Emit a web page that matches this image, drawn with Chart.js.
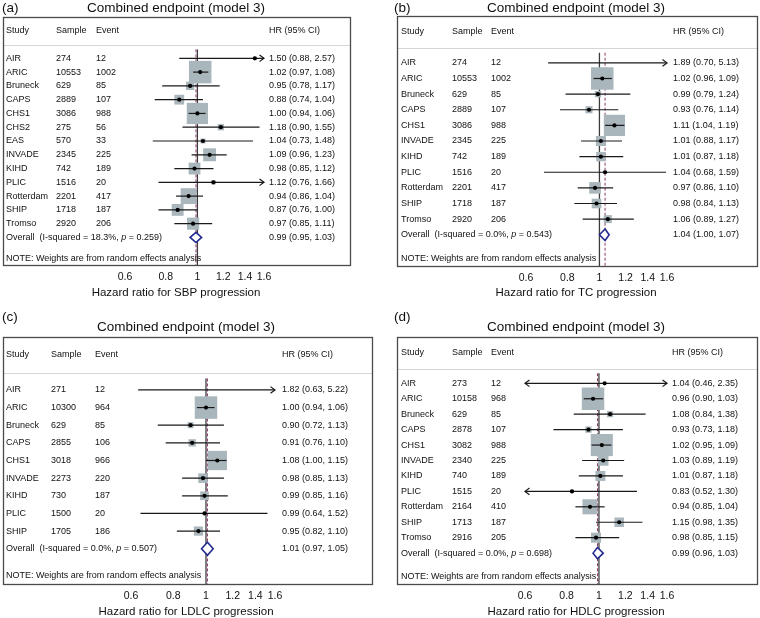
<!DOCTYPE html>
<html>
<head>
<meta charset="utf-8">
<script src="https://cdn.jsdelivr.net/npm/chart.js@4.4.1/dist/chart.umd.min.js"></script>
<style>
  html, body { margin: 0; padding: 0; background: #ffffff; }
  #wrap { position: relative; width: 760px; height: 618px; overflow: hidden; background: #fff; }
  .panel { position: absolute; }
  canvas { display: block; }
</style>
</head>
<body>
<div id="wrap">
  <div class="panel" style="left:0px;top:0px;"><canvas id="pa" width="380" height="305"></canvas></div>
  <div class="panel" style="left:380px;top:0px;"><canvas id="pb" width="380" height="305"></canvas></div>
  <div class="panel" style="left:0px;top:305px;"><canvas id="pc" width="380" height="313"></canvas></div>
  <div class="panel" style="left:380px;top:305px;"><canvas id="pd" width="380" height="313"></canvas></div>
</div>
<script>
// ---------------- DATA ----------------
const tickValues = [0.6, 0.8, 1, 1.2, 1.4, 1.6];
const axisMin = 0.6;
const axisMax = 1.6;
const panelTitle = 'Combined endpoint (model 3)';
const noteText = 'NOTE: Weights are from random effects analysis';
const headerLabels = ['Study', 'Sample', 'Event', 'HR (95% CI)'];

// (a) SBP
const sbpStudies = ['AIR', 'ARIC', 'Bruneck', 'CAPS', 'CHS1', 'CHS2', 'EAS', 'INVADE', 'KIHD', 'PLIC', 'Rotterdam', 'SHIP', 'Tromso'];
const sbpSample  = [274, 10553, 629, 2889, 3086, 275, 570, 2345, 742, 1516, 2201, 1718, 2920];
const sbpEvent   = [12, 1002, 85, 107, 988, 56, 33, 225, 189, 20, 417, 187, 206];
const sbpHR      = [1.50, 1.02, 0.95, 0.88, 1.00, 1.18, 1.04, 1.09, 0.98, 1.12, 0.94, 0.87, 0.97];
const sbpLower   = [0.88, 0.97, 0.78, 0.74, 0.94, 0.90, 0.73, 0.96, 0.85, 0.76, 0.86, 0.76, 0.85];
const sbpUpper   = [2.57, 1.08, 1.17, 1.04, 1.06, 1.55, 1.48, 1.23, 1.12, 1.66, 1.04, 1.00, 1.11];
const sbpOverall = [0.99, 0.95, 1.03];
const sbpHet     = [18.3, 0.259];   // I-squared (%), p

// (b) TC
const tcStudies = ['AIR', 'ARIC', 'Bruneck', 'CAPS', 'CHS1', 'INVADE', 'KIHD', 'PLIC', 'Rotterdam', 'SHIP', 'Tromso'];
const tcSample  = [274, 10553, 629, 2889, 3086, 2345, 742, 1516, 2201, 1718, 2920];
const tcEvent   = [12, 1002, 85, 107, 988, 225, 189, 20, 417, 187, 206];
const tcHR      = [1.89, 1.02, 0.99, 0.93, 1.11, 1.01, 1.01, 1.04, 0.97, 0.98, 1.06];
const tcLower   = [0.70, 0.96, 0.79, 0.76, 1.04, 0.88, 0.87, 0.68, 0.86, 0.84, 0.89];
const tcUpper   = [5.13, 1.09, 1.24, 1.14, 1.19, 1.17, 1.18, 1.59, 1.10, 1.13, 1.27];
const tcOverall = [1.04, 1.00, 1.07];
const tcHet     = [0.0, 0.543];

// (c) LDLC
const ldlcStudies = ['AIR', 'ARIC', 'Bruneck', 'CAPS', 'CHS1', 'INVADE', 'KIHD', 'PLIC', 'SHIP'];
const ldlcSample  = [271, 10300, 629, 2855, 3018, 2273, 730, 1500, 1705];
const ldlcEvent   = [12, 964, 85, 106, 966, 220, 187, 20, 186];
const ldlcHR      = [1.82, 1.00, 0.90, 0.91, 1.08, 0.98, 0.99, 0.99, 0.95];
const ldlcLower   = [0.63, 0.94, 0.72, 0.76, 1.00, 0.85, 0.85, 0.64, 0.82];
const ldlcUpper   = [5.22, 1.06, 1.13, 1.10, 1.15, 1.13, 1.16, 1.52, 1.10];
const ldlcOverall = [1.01, 0.97, 1.05];
const ldlcHet     = [0.0, 0.507];

// (d) HDLC
const hdlcStudies = ['AIR', 'ARIC', 'Bruneck', 'CAPS', 'CHS1', 'INVADE', 'KIHD', 'PLIC', 'Rotterdam', 'SHIP', 'Tromso'];
const hdlcSample  = [273, 10158, 629, 2878, 3082, 2340, 740, 1515, 2164, 1713, 2916];
const hdlcEvent   = [12, 968, 85, 107, 988, 225, 189, 20, 410, 187, 205];
const hdlcHR      = [1.04, 0.96, 1.08, 0.93, 1.02, 1.03, 1.01, 0.83, 0.94, 1.15, 0.98];
const hdlcLower   = [0.46, 0.90, 0.84, 0.73, 0.95, 0.89, 0.87, 0.52, 0.85, 0.98, 0.85];
const hdlcUpper   = [2.35, 1.03, 1.38, 1.18, 1.09, 1.19, 1.18, 1.30, 1.04, 1.35, 1.15];
const hdlcOverall = [0.99, 0.96, 1.03];
const hdlcHet     = [0.0, 0.698];

// ---------------- STYLE / LAYOUT ----------------
const FONT = '"Liberation Sans", Arial, Helvetica, sans-serif';
const COL = {
  box: '#4a4a4a', sep: '#d6d6d6', ref: '#3c3c3c', overallLine: '#8e3c6c',
  square: '#a9b6bc', ci: '#1a1a1a', dot: '#000000', diamond: '#232a8f', text: '#111111'
};
const MAX_SIDE = 22.5;
const AXIS_H = 20;

const panels = [
  { canvas: 'pa', tag: '(a)', axisTitle: 'Hazard ratio for SBP progression',
    studies: sbpStudies, sample: sbpSample, event: sbpEvent, hr: sbpHR, lo: sbpLower, hi: sbpUpper, overall: sbpOverall, het: sbpHet,
    L: { w: 380, h: 305, box: [3, 17, 350, 265], axis: [125, 264], cols: [6, 56, 96, 269], tagX: 2, tagY: 8, titleX: 176, titleY: 8, axisTitleY: 293 } },
  { canvas: 'pb', tag: '(b)', axisTitle: 'Hazard ratio for TC progression',
    studies: tcStudies, sample: tcSample, event: tcEvent, hr: tcHR, lo: tcLower, hi: tcUpper, overall: tcOverall, het: tcHet,
    L: { w: 380, h: 305, box: [17, 16, 377, 266], axis: [146, 287], cols: [21, 72, 111, 293], tagX: 14, tagY: 8, titleX: 196, titleY: 8, axisTitleY: 293 } },
  { canvas: 'pc', tag: '(c)', axisTitle: 'Hazard ratio for LDLC progression',
    studies: ldlcStudies, sample: ldlcSample, event: ldlcEvent, hr: ldlcHR, lo: ldlcLower, hi: ldlcUpper, overall: ldlcOverall, het: ldlcHet,
    L: { w: 380, h: 313, box: [3, 32, 372, 279], axis: [131, 275], cols: [6, 51, 95, 282], tagX: 2, tagY: 12, titleX: 186, titleY: 22, axisTitleY: 307 } },
  { canvas: 'pd', tag: '(d)', axisTitle: 'Hazard ratio for HDLC progression',
    studies: hdlcStudies, sample: hdlcSample, event: hdlcEvent, hr: hdlcHR, lo: hdlcLower, hi: hdlcUpper, overall: hdlcOverall, het: hdlcHet,
    L: { w: 380, h: 313, box: [17, 32, 377, 279], axis: [145, 287], cols: [21, 72, 111, 292], tagX: 14, tagY: 12, titleX: 196, titleY: 22, axisTitleY: 307 } }
];

// random-effects weights (tau^2 from the reported I-squared) -> square sides
function squareSides(lo, hi, i2pct) {
  const v = lo.map((l, i) => { const se = (Math.log(hi[i]) - Math.log(l)) / (2 * 1.959964); return se * se; });
  const w = v.map(x => 1 / x);
  const sw = w.reduce((a, b) => a + b, 0);
  const c = sw - w.reduce((a, wi) => a + wi * wi, 0) / sw;
  const df = v.length - 1;
  const Q = df / (1 - i2pct / 100);
  const tau2 = Math.max(0, (Q - df) / c);
  const ws = v.map(x => 1 / (x + tau2));
  const m = Math.max(...ws);
  return ws.map(x => MAX_SIDE * Math.sqrt(x / m));
}

function fmtCI(h, l, u) { return h.toFixed(2) + ' (' + l.toFixed(2) + ', ' + u.toFixed(2) + ')'; }

function arrowHead(ctx, x, y, dir) {
  ctx.beginPath();
  ctx.moveTo(x - dir * 4.5, y - 3.3);
  ctx.lineTo(x, y);
  ctx.lineTo(x - dir * 4.5, y + 3.3);
  ctx.stroke();
}

const forestPlugin = {
  id: 'forest',
  beforeDatasetsDraw(chart, args, o) {
    const P = o.panel, L = P.L, ctx = chart.ctx;
    const xs = chart.scales.x, ys = chart.scales.y;
    const n = P.studies.length;
    ctx.save();
    ctx.strokeStyle = COL.sep; ctx.lineWidth = 1;
    const ySep = Math.round(ys.getPixelForValue(2.05)) + 0.5;
    ctx.beginPath(); ctx.moveTo(L.box[0], ySep); ctx.lineTo(L.box[2], ySep); ctx.stroke();
    const yTop = ys.getPixelForValue(2.35), yBot = ys.getPixelForValue(n + 5);
    ctx.strokeStyle = COL.ref; ctx.lineWidth = 1.3;
    const x1 = xs.getPixelForValue(1);
    ctx.beginPath(); ctx.moveTo(x1, yTop); ctx.lineTo(x1, yBot); ctx.stroke();
    ctx.strokeStyle = COL.overallLine; ctx.lineWidth = 1; ctx.setLineDash([3, 2]);
    const xo = xs.getPixelForValue(P.overall[0]);
    ctx.beginPath(); ctx.moveTo(xo, yTop); ctx.lineTo(xo, yBot); ctx.stroke();
    ctx.setLineDash([]);
    ctx.restore();
  },
  afterDatasetDraw(chart, args, o) {
    if (args.index !== 0) return;
    const P = o.panel, ctx = chart.ctx;
    const xs = chart.scales.x, ys = chart.scales.y;
    ctx.save();
    ctx.strokeStyle = COL.ci; ctx.lineWidth = 1.2;
    P.studies.forEach((s, i) => {
      const y = ys.getPixelForValue(i + 3);
      const lo = Math.max(P.lo[i], axisMin), hi = Math.min(P.hi[i], axisMax);
      const xl = xs.getPixelForValue(lo), xh = xs.getPixelForValue(hi);
      ctx.beginPath(); ctx.moveTo(xl, y); ctx.lineTo(xh, y); ctx.stroke();
      if (P.lo[i] < axisMin) arrowHead(ctx, xl, y, -1);
      if (P.hi[i] > axisMax) arrowHead(ctx, xh, y, 1);
    });
    ctx.restore();
  },
  afterDatasetsDraw(chart, args, o) {
    const P = o.panel, ctx = chart.ctx;
    const xs = chart.scales.x, ys = chart.scales.y;
    const n = P.studies.length;
    const yc = ys.getPixelForValue(n + 3);
    const hh = Math.abs(ys.getPixelForValue(n + 3.37) - yc);
    const xl = xs.getPixelForValue(P.overall[1]), xm = xs.getPixelForValue(P.overall[0]), xr = xs.getPixelForValue(P.overall[2]);
    ctx.save();
    ctx.fillStyle = '#ffffff'; ctx.strokeStyle = COL.diamond; ctx.lineWidth = 1.6; ctx.lineJoin = 'miter';
    ctx.beginPath(); ctx.moveTo(xl, yc); ctx.lineTo(xm, yc - hh); ctx.lineTo(xr, yc); ctx.lineTo(xm, yc + hh); ctx.closePath();
    ctx.fill(); ctx.stroke();
    ctx.restore();
  },
  afterDraw(chart, args, o) {
    const P = o.panel, L = P.L, ctx = chart.ctx;
    const ys = chart.scales.y;
    const n = P.studies.length;
    ctx.save();
    ctx.strokeStyle = COL.box; ctx.lineWidth = 1.3;
    ctx.strokeRect(L.box[0] + 0.5, L.box[1] + 0.5, L.box[2] - L.box[0], L.box[3] - L.box[1]);
    ctx.fillStyle = COL.text; ctx.textBaseline = 'middle'; ctx.textAlign = 'left';
    ctx.font = '13.5px ' + FONT;
    ctx.fillText(P.tag, L.tagX, L.tagY);
    ctx.textAlign = 'center';
    ctx.fillText(panelTitle, L.titleX, L.titleY);
    ctx.font = '11.5px ' + FONT;
    ctx.fillText(P.axisTitle, L.titleX, L.axisTitleY);
    ctx.textAlign = 'left';
    ctx.font = '9px ' + FONT;
    const yh = ys.getPixelForValue(1);
    headerLabels.forEach((t, k) => ctx.fillText(t, L.cols[k], yh));
    P.studies.forEach((s, i) => {
      const y = ys.getPixelForValue(i + 3);
      ctx.fillText(s, L.cols[0], y);
      ctx.fillText(String(P.sample[i]), L.cols[1], y);
      ctx.fillText(String(P.event[i]), L.cols[2], y);
      ctx.fillText(fmtCI(P.hr[i], P.lo[i], P.hi[i]), L.cols[3], y);
    });
    const yo = ys.getPixelForValue(n + 3);
    let x = L.cols[0];
    const part1 = 'Overall  (I-squared = ' + P.het[0].toFixed(1) + '%, ';
    ctx.fillText(part1, x, yo); x += ctx.measureText(part1).width;
    ctx.font = 'italic 9px ' + FONT;
    ctx.fillText('p', x, yo); x += ctx.measureText('p').width;
    ctx.font = '9px ' + FONT;
    ctx.fillText(' = ' + P.het[1].toFixed(3) + ')', x, yo);
    ctx.fillText(fmtCI(P.overall[0], P.overall[1], P.overall[2]), L.cols[3], yo);
    ctx.fillText(noteText, L.cols[0], ys.getPixelForValue(n + 4.5));
    ctx.restore();
  }
};

panels.forEach(P => {
  const L = P.L;
  const n = P.studies.length;
  const sides = squareSides(P.lo, P.hi, P.het[0]);
  const pts = P.studies.map((s, i) => ({ x: P.hr[i], y: i + 3 }));
  new Chart(document.getElementById(P.canvas), {
    type: 'scatter',
    data: {
      datasets: [
        { label: 'weight', data: pts, pointStyle: 'rect', pointRadius: sides.map(s => s / Math.SQRT2),
          backgroundColor: COL.square, borderWidth: 0, order: 2 },
        { label: 'HR', data: pts, pointStyle: 'circle', pointRadius: 2.1,
          backgroundColor: COL.dot, borderWidth: 0, order: 1 }
      ]
    },
    options: {
      responsive: false, animation: false, events: [],
      layout: { padding: { left: L.axis[0], right: L.w - L.axis[1], top: L.box[1], bottom: L.h - L.box[3] - AXIS_H } },
      scales: {
        x: {
          type: 'logarithmic', min: axisMin, max: axisMax, position: 'bottom',
          afterBuildTicks: s => { s.ticks = tickValues.map(v => ({ value: v })); },
          afterFit: s => { s.height = AXIS_H; },
          ticks: { autoSkip: false, maxRotation: 0, padding: 6, color: '#111111',
                   font: { size: 10.5, family: FONT }, callback: v => String(+Number(v).toFixed(1)) },
          grid: { display: false, drawTicks: false },
          border: { display: false }
        },
        y: { type: 'linear', display: false, reverse: true, min: 0, max: n + 5 }
      },
      plugins: { legend: { display: false }, tooltip: { enabled: false }, forest: { panel: P } }
    },
    plugins: [forestPlugin]
  });
});
</script>
</body>
</html>
